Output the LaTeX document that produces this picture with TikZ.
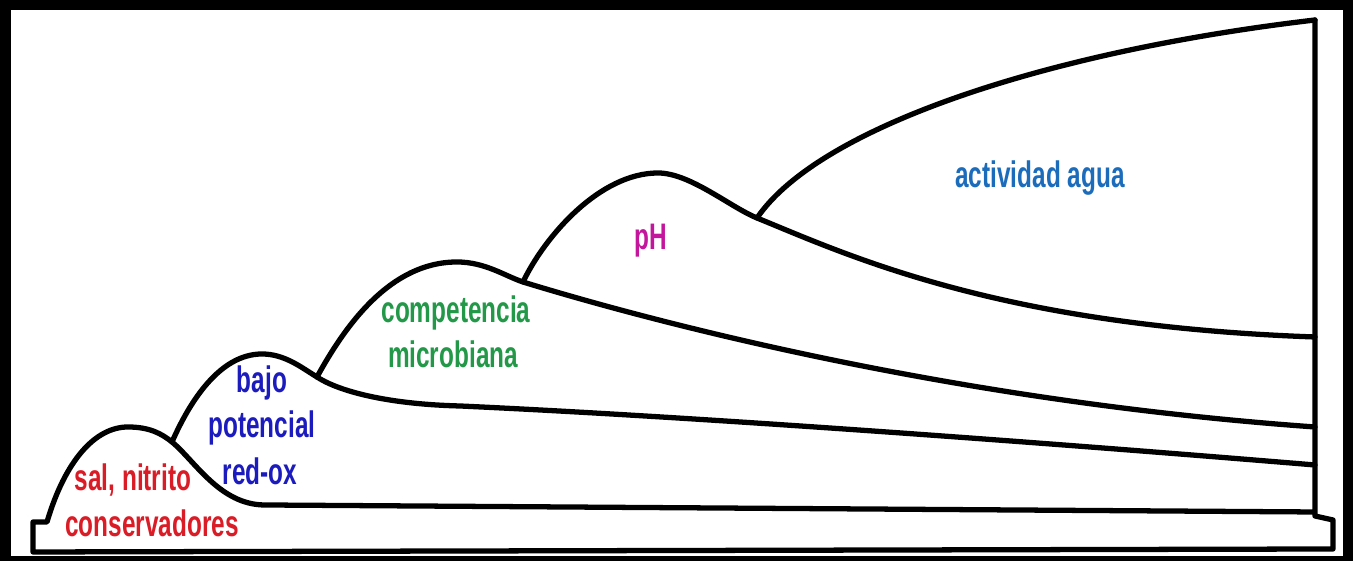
\documentclass[tikz,border=0pt]{standalone}
\usepackage{fontspec}
\setmainfont{Liberation Sans}[FakeStretch=0.66]
\usepackage{xcolor}
\definecolor{salred}{RGB}{218,28,38}
\definecolor{redoxblue}{RGB}{28,28,190}
\definecolor{compgreen}{RGB}{34,152,72}
\definecolor{phmagenta}{RGB}{196,22,156}
\definecolor{awblue}{RGB}{28,108,188}
\tikzset{
  every picture/.style={line join=round, line cap=round},
  hurdle/.style={line width=1.5pt},
  tag/.style={font=\fontsize{10.5}{12}\selectfont\bfseries, anchor=base, inner sep=0pt},
}

\begin{document}
\begin{tikzpicture}
% frame
\fill[black] (0,0) rectangle (13.53,5.61);
\fill[white] (0.11,0.05) rectangle (13.43,5.51);
% junctions
\coordinate (J12) at (1.72,1.19);
\coordinate (J23) at (3.17,1.84);
\coordinate (J34) at (5.23,2.79);
\coordinate (J45) at (7.57,3.43);
% base, wall and first hurdle
\draw[hurdle] (13.15,5.41) -- (13.15,0.45) -- (13.33,0.41) -- (13.33,0.12) -- (0.33,0.09) -- (0.33,0.39) -- (0.47,0.39)
  .. controls (0.65,1.0) and (0.95,1.34) .. (1.28,1.34)
  .. controls (1.5,1.34) and (1.62,1.27) .. (J12)
  .. controls (1.95,1.0) and (2.2,0.56) .. (2.65,0.56) -- (13.15,0.49);
% other hurdles
\draw[hurdle] (J12) .. controls (1.9,1.6) and (2.2,2.07) .. (2.62,2.07)
  .. controls (2.85,2.07) and (3.02,1.93) .. (J23)
  .. controls (3.35,1.72) and (3.8,1.57) .. (4.6,1.55)
  .. controls (7,1.44) and (10.5,1.18) .. (13.15,0.96);
\draw[hurdle] (J23) .. controls (3.45,2.35) and (3.9,2.99) .. (4.57,2.99)
  .. controls (4.85,2.99) and (5.05,2.85) .. (J34)
  .. controls (6.5,2.4) and (9.5,1.6) .. (13.15,1.34);
\draw[hurdle] (J34) .. controls (5.45,3.25) and (6.0,3.88) .. (6.58,3.88)
  .. controls (6.9,3.88) and (7.3,3.54) .. (J45)
  .. controls (8.5,3.05) and (10.0,2.35) .. (13.15,2.24);
\draw[hurdle] (J45) .. controls (8.2,4.35) and (10.5,5.1) .. (13.15,5.41);
% labels
\node[tag, text=salred] (sal) at (1.33,0.70) {sal, nitrito};
\node[tag, text=salred] (cons) at (1.52,0.24) {conservadores};
\foreach \n/\x/\y/\t in {bajo/2.62/1.68/bajo, pot/2.62/1.23/potencial, redox/2.60/0.76/red-ox}
  {\node[tag, text=redoxblue] (\n) at (\x,\y) {\t};}
\node[tag, text=compgreen] (comp) at (4.56,2.38) {competencia};
\node[tag, text=compgreen] (micro) at (4.53,1.93) {microbiana};
\node[tag, text=phmagenta] (ph) at (6.51,3.11) {pH};
\node[tag, text=awblue] (aw) at (10.40,3.73) {actividad agua};
\end{tikzpicture}
\end{document}
